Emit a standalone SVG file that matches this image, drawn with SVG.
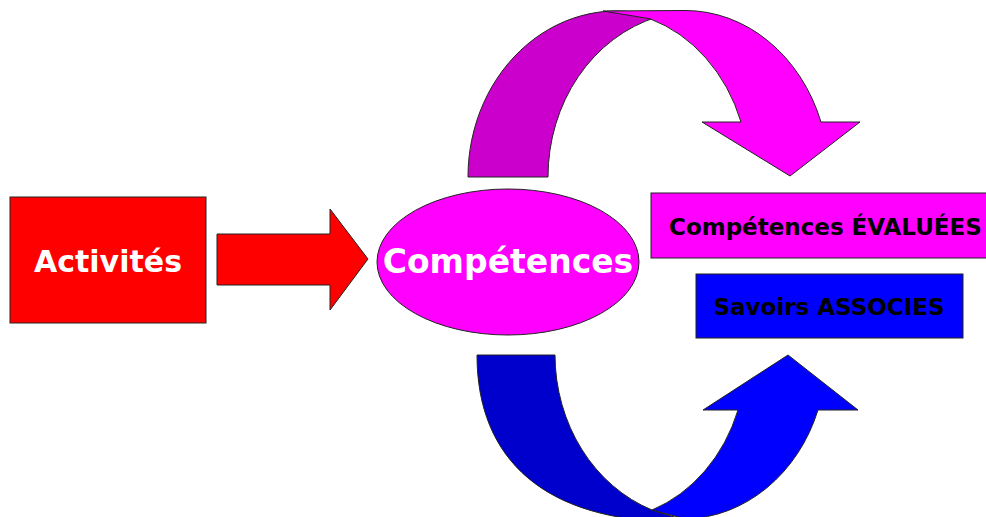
<svg xmlns="http://www.w3.org/2000/svg" width="986" height="517" viewBox="0 0 986 517">
  <style>
    .ol { stroke: #222; stroke-width: 1; stroke-linejoin: miter; }
    .lbl { font-family: "DejaVu Sans", Verdana, sans-serif; font-weight: bold; }
    .w { fill: #FFFFFF; }
    .k { fill: #000000; }
  </style>
  <rect x="0" y="0" width="986" height="517" fill="#FFFFFF"/>

  <g id="connectors">
    <!-- straight red arrow -->
    <path id="arrow-red" class="ol" fill="#FF0000" d="M 217 234 L 330 234 L 330 209 L 368 259 L 330 310 L 330 285 L 217 285 Z"/>
    <!-- top curved arrow (back band, then front band) -->
    <g id="arrow-top">
      <path class="ol" fill="#CC00CC" d="M 468 177 A 149 166 0 0 1 657 17 A 149 166 0 0 0 548 177 Z"/>
      <path class="ol" fill="#FF00FF" d="M 603 11 L 685 10.5 A 144 166.5 0 0 1 821 122 L 860 122 L 790 176 L 702 122 L 741 122 A 144 166.5 0 0 0 650 18.8 Z"/>
    </g>
    <!-- bottom curved arrow -->
    <g id="arrow-bottom">
      <path class="ol" fill="#0000CC" d="M 477 355 C 477 460 545 522 680 522 L 690 522 L 652 510 A 149 166 0 0 1 555 355 Z"/>
      <path class="ol" fill="#0000FF" d="M 652 510 A 144 164 0 0 0 738 410 L 703 410 L 788 355 L 858 410 L 818 410 A 144 164 0 0 1 686 519 Z"/>
    </g>
  </g>

  <g id="node-activites">
    <rect class="ol" x="10" y="197" width="196" height="126" fill="#FF0000"/>
    <text class="lbl w" x="108" y="272" font-size="30" text-anchor="middle">Activités</text>
  </g>

  <g id="node-competences">
    <ellipse class="ol" cx="508" cy="262" rx="131" ry="73" fill="#FF00FF"/>
    <text class="lbl w" x="508" y="273" font-size="33" text-anchor="middle">Compétences</text>
  </g>

  <g id="node-evaluees">
    <rect class="ol" x="651" y="193" width="345" height="65" fill="#FF00FF"/>
    <text class="lbl k" x="669" y="235" font-size="23">Compétences ÉVALUÉES</text>
  </g>

  <g id="node-savoirs">
    <rect class="ol" x="696" y="274" width="267" height="64" fill="#0000FF"/>
    <text class="lbl k" x="829" y="315" font-size="23" text-anchor="middle">Savoirs ASSOCIES</text>
  </g>
</svg>
